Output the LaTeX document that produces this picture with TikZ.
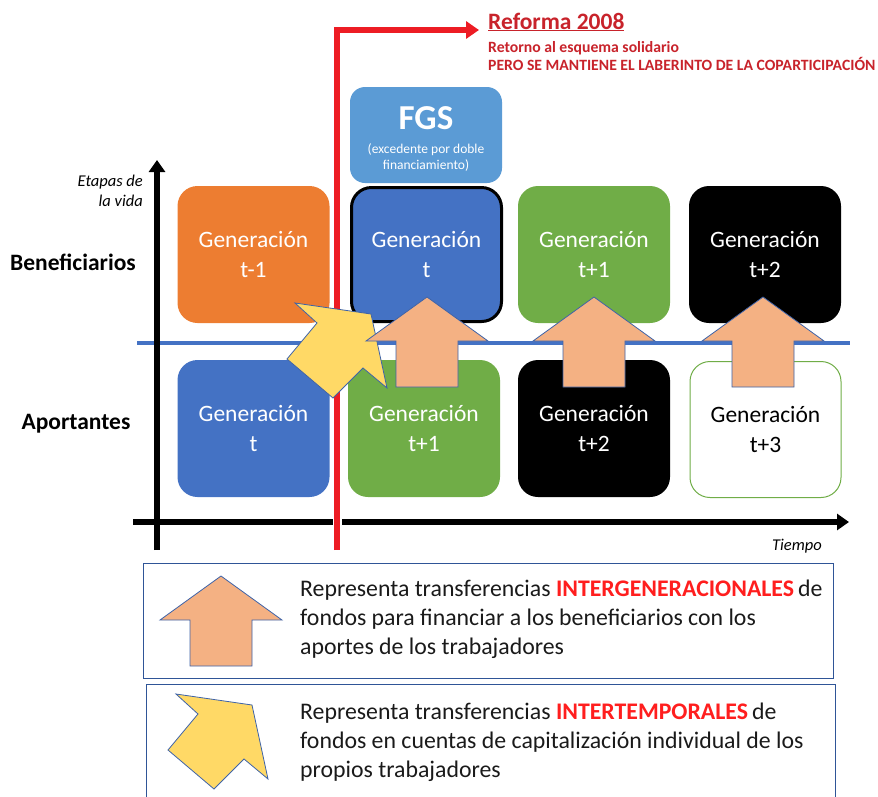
\documentclass[tikz,border=0pt]{standalone}
\usepackage{fontspec}
\setmainfont{Carlito}
\usetikzlibrary{arrows.meta}
\definecolor{cOrange}{HTML}{ED7D31}
\definecolor{cBlue}{HTML}{4472C4}
\definecolor{cGreen}{HTML}{70AD47}
\definecolor{cLight}{HTML}{5B9BD5}
\definecolor{cRed}{HTML}{ED1C24}
\definecolor{cTitle}{HTML}{C8232B}
\definecolor{cSalmon}{HTML}{F4B183}
\definecolor{cYellow}{HTML}{FFD966}
\definecolor{cEdge}{HTML}{3E63A8}
\definecolor{cLeg}{HTML}{2F5597}
\definecolor{cText}{HTML}{1A1A1A}
\definecolor{cLegRed}{HTML}{FF1E1E}
\begin{document}
\begin{tikzpicture}[x=1pt,y=-1pt,
  gen/.style={rounded corners=20pt, minimum width=152pt, minimum height=137pt,
    inner sep=0pt, align=center, text=white,
    font=\fontsize{23.5}{30}\selectfont},
  axis/.style={line width=6pt, -{Triangle[length=12pt,width=16pt]}},
  legbox/.style={draw=cLeg, line width=1pt},
  legtext/.style={anchor=west, align=left, text=cText, inner sep=0pt,
    font=\fontsize{23.8}{29}\selectfont},
  pics/salmonarrow/.style={code={
    \draw[fill=cSalmon, draw=cEdge, line width=0.8pt, line join=miter]
      (0,0) -- (61,44) -- (31,44) -- (31,90) -- (-31,90) -- (-31,44) -- (-61,44) -- cycle;}},
  pics/yellowarrow/.style={code={
    \draw[fill=cYellow, draw=cEdge, line width=0.8pt, line join=miter]
      (0,0) -- (76,11) -- (92,85) -- (68,65) -- (38,95) -- (-8,56) -- (22,20) -- cycle;}}
]
\useasboundingbox (0,0) rectangle (878,796);

% blue separator
\coordinate (bl) at (137,343);
\coordinate (br) at (850,343);
\draw[cBlue, line width=4pt] (bl) -- (br);

% boxes top row
\node[gen, fill=cOrange] (g1) at (253.5,254.5) {Generación\\t-1};
\node[gen, fill=cBlue, draw=black, line width=3pt, minimum width=150pt, minimum height=134pt] (g2) at (426.5,254.5) {Generación\\t};
\node[gen, fill=cGreen] (g3) at (594,254.5) {Generación\\t+1};
\node[gen, fill=black] (g4) at (765,254.5) {Generación\\t+2};
% boxes bottom row
\node[gen, fill=cBlue] (a1) at (253.5,428.5) {Generación\\t};
\node[gen, fill=cGreen] (a2) at (424,428.5) {Generación\\t+1};
\node[gen, fill=black] (a3) at (594,428.5) {Generación\\t+2};
\node[gen, fill=white, draw=cGreen, line width=1pt, text=black, minimum width=151pt, minimum height=136pt] (a4) at (765.5,429.5) {Generación\\t+3};

% FGS
\node[rounded corners=15pt, fill=cLight, minimum width=152pt, minimum height=96pt, inner sep=0pt] (fgs) at (426,135) {};
\node[text=white, font=\bfseries\fontsize{35}{36}\selectfont, inner sep=0pt] (fgst) at (426,118) {FGS};
\node[text=white, font=\fontsize{13.5}{16}\selectfont, align=center, inner sep=0pt] (fgss) at (426,157) {(excedente por doble\\financiamiento)};

% axes
\coordinate (vy0) at (157,550);
\coordinate (vy1) at (157,160);
\coordinate (hx0) at (133,522);
\coordinate (hx1) at (849,522);
\draw[axis] (vy0) -- (vy1);
\draw[axis] (hx0) -- (hx1);

% red reform line
\coordinate (r0) at (337,550);
\coordinate (r1) at (337,30);
\coordinate (r2) at (479,30);
\draw[white, line width=9pt] (r0) -- (337,190);
\draw[cRed, line width=6pt, line join=miter, -{Triangle[length=13pt,width=17pt]}] (r0) -- (r1) -- (r2);

% transfer arrows
\pic at (295,303) {yellowarrow};
\pic at (427,297) {salmonarrow};
\pic at (594,297) {salmonarrow};
\pic at (763,297) {salmonarrow};

% labels
\node[font=\bfseries\fontsize{23.5}{26}\selectfont, inner sep=0pt] (ben) at (73,262) {Beneficiarios};
\node[font=\bfseries\fontsize{23.5}{26}\selectfont, inner sep=0pt] (apo) at (76,424) {Aportantes};
\node[anchor=east, align=right, font=\itshape\fontsize{16.5}{20}\selectfont, inner sep=0pt] (etapas) at (143,191) {Etapas de\\la vida};
\node[font=\itshape\fontsize{16.5}{18}\selectfont, inner sep=0pt] (tiempo) at (797,546) {Tiempo};

% reform title
\node[anchor=west, text=cTitle, font=\bfseries\fontsize{23.5}{24}\selectfont, inner sep=0pt] (ref) at (488,22) {\underline{Reforma 2008}};
\node[anchor=west, text=cTitle, font=\bfseries\fontsize{15.7}{18}\selectfont, inner sep=0pt, align=left] (ref2) at (488,56) {Retorno al esquema solidario\\PERO SE MANTIENE EL LABERINTO DE LA COPARTICIPACIÓN};

% legend
\draw[legbox] (143,563) rectangle (833,678);
\draw[legbox] (146,684) rectangle (835,800);
\pic at (221,576) {salmonarrow};
\pic at (176,694) {yellowarrow};
\node[legtext] (l1) at (300,619) {Representa transferencias {\color{cLegRed}\bfseries INTERGENERACIONALES}\,de\\fondos para financiar a los beneficiarios con los\\aportes de los trabajadores};
\node[legtext] (l2) at (300,742) {Representa transferencias {\color{cLegRed}\bfseries INTERTEMPORALES}\,de\\fondos en cuentas de capitalización individual de los\\propios trabajadores};
\end{tikzpicture}
\end{document}
